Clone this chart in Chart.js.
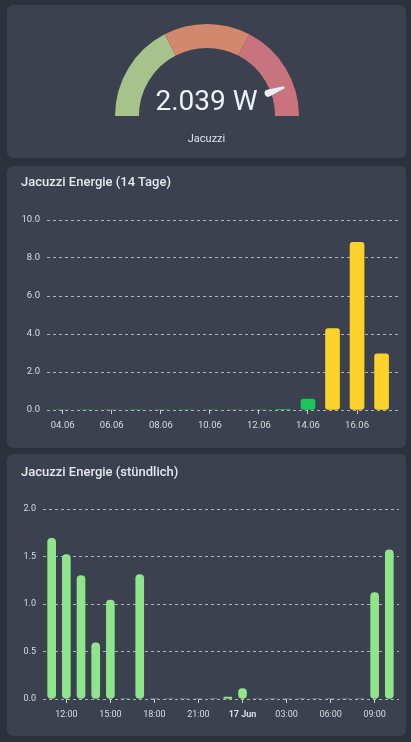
<!DOCTYPE html>
<html>
<head>
<meta charset="utf-8">
<script src="https://cdn.jsdelivr.net/npm/chart.js@4.4.1/dist/chart.umd.min.js"></script>
<style>
  html,body{margin:0;padding:0;background:#2c313c;width:411px;height:742px;overflow:hidden;font-family:Roboto,"Noto Sans",sans-serif;}
  .card{position:absolute;left:7px;width:399px;background:#3b414e;border-radius:6px;}
  .titel{position:absolute;left:14px;color:#e6e8ee;font-size:13px;font-weight:500;}
  canvas{position:absolute;}
  #wert{position:absolute;left:0;width:399px;text-align:center;top:82px;color:#f0f2f7;font-size:28px;line-height:28px;}
  #name{position:absolute;left:0;width:399px;text-align:center;top:127px;color:#e2e4ea;font-size:11px;}
</style>
</head>
<body>
<div class="card" style="top:5px;height:153px;">
  <canvas id="gauge" width="184" height="92" style="left:108px;top:19px;width:184px;height:92px;"></canvas>
  <div id="wert">2.039 W</div>
  <div id="name">Jacuzzi</div>
</div>
<div class="card" style="top:166px;height:282px;">
  <div class="titel" style="top:8px;">Jacuzzi Energie (14 Tage)</div>
  <canvas id="tage" width="399" height="245" style="left:0;top:29px;width:399px;height:245px;"></canvas>
</div>
<div class="card" style="top:454px;height:282px;">
  <div class="titel" style="top:10px;">Jacuzzi Energie (stündlich)</div>
  <canvas id="stunden" width="399" height="250" style="left:0;top:26px;width:399px;height:250px;"></canvas>
</div>
<script>
// Gauge
const leistung = 2039;
const gaugeGrenzen = [0, 800, 1500, 2300];
const gaugeFarben = ["#a8c28b", "#d3876d", "#c8737e"];

// 14 Tage (Tag im Juni)
const tage = [4,5,6,7,8,9,10,11,12,13,14,15,16,17];
const energieTage = [0,0,0,0,0,0,0,0,0,0.02,0.58,4.29,8.83,2.96];
const tageTickWerte = [4,6,8,10,12,14,16];
const tageTicks = ["04.06","06.06","08.06","10.06","12.06","14.06","16.06"];

// stündlich (Stunden ab 16.06 00:00)
const stunden = [11,12,13,14,15,16,17,18,19,20,21,22,23,24,25,26,27,28,29,30,31,32,33,34];
const energieStunden = [1.69,1.52,1.30,0.59,1.04,0,1.31,0,0,0,0,0,0.02,0.11,0,0,0,0,0,0,0,0,1.12,1.57];
const stundenTickWerte = [12,15,18,21,24,27,30,33];
const stundenTicks = ["12:00","15:00","18:00","21:00","17 Jun","03:00","06:00","09:00"];

Chart.defaults.font.family = "Roboto, 'Noto Sans', sans-serif";
Chart.defaults.color = "#d9dce3";

// Gauge
const segmente = gaugeFarben.map((f,i)=>gaugeGrenzen[i+1]-gaugeGrenzen[i]);
const nadel = {
  id:"nadel",
  afterDatasetsDraw(chart){
    const arc = chart.getDatasetMeta(0).data[0];
    const cx = arc.x, cy = arc.y, R = arc.outerRadius;
    const anteil = (leistung-gaugeGrenzen[0])/(gaugeGrenzen[3]-gaugeGrenzen[0]);
    const a = Math.PI + anteil*Math.PI;
    const c = chart.ctx;
    c.save();
    c.translate(cx,cy); c.rotate(a);
    c.fillStyle = "#e9edf5";
    c.beginPath();
    c.moveTo(R*0.71, -3.6);
    c.lineTo(R*0.895, -1.2);
    c.quadraticCurveTo(R*0.905, 0, R*0.895, 1.0);
    c.lineTo(R*0.71, 3.6);
    c.arc(R*0.71, 0, 3.6, Math.PI/2, Math.PI*1.5);
    c.closePath();
    c.fill();
    c.restore();
  }
};
new Chart(document.getElementById("gauge"), {
  type:"doughnut",
  data:{datasets:[{data:segmente, backgroundColor:gaugeFarben, borderWidth:0}]},
  options:{responsive:false, animation:false, rotation:-90, circumference:180, cutout:"74%",
    plugins:{legend:{display:false}, tooltip:{enabled:false}}},
  plugins:[nadel]
});

const gitter = {color:"rgba(222,226,234,0.7)", lineWidth:1, drawTicks:false};

// 14 Tage
new Chart(document.getElementById("tage"), {
  type:"bar",
  data:{datasets:[{
    data: tage.map((t,i)=>({x:t, y:energieTage[i]})),
    backgroundColor: ctx => (ctx.raw && ctx.raw.y < 1) ? "#1fc55a" : "#fdd22b",
    barThickness:14, borderRadius:3, borderSkipped:false
  }]},
  options:{responsive:false, animation:false,
    layout:{padding:{top:25,right:7,left:0,bottom:0}},
    plugins:{legend:{display:false}, tooltip:{enabled:false}},
    scales:{
      x:{type:"linear", min:3.36, max:17.71, offset:false,
        afterBuildTicks: s => { s.ticks = tageTickWerte.map(v=>({value:v})); },
        afterFit: s => { s.height = 30; },
        grid:{offset:false, drawOnChartArea:false, drawTicks:true, tickLength:4, color:"#c9cdd6"},
        border:{display:false},
        ticks:{autoSkip:false, maxRotation:0, padding:6, font:{size:9.5}, color:"#d9dce3",
          callback:(v,i)=>tageTicks[i]}},
      y:{min:0, max:10,
        afterFit: s => { s.width = 40; },
        grid:gitter, border:{display:false, dash:[3,3]},
        ticks:{stepSize:2, padding:7, font:{size:9.5}, color:"#d9dce3", callback:v=>v.toFixed(1)}}
    }
  }
});

// stündlich
new Chart(document.getElementById("stunden"), {
  type:"bar",
  data:{datasets:[{
    data: stunden.map((h,i)=>({x:h, y:energieStunden[i]})),
    backgroundColor:"#8fe58a",
    barThickness:8, borderRadius:4, borderSkipped:false
  }]},
  options:{responsive:false, animation:false,
    layout:{padding:{top:29,right:7,left:0,bottom:0}},
    plugins:{legend:{display:false}, tooltip:{enabled:false}},
    scales:{
      x:{type:"linear", min:10.41, max:34.66, offset:false,
        afterBuildTicks: s => { s.ticks = stundenTickWerte.map(v=>({value:v})); },
        afterFit: s => { s.height = 31; },
        grid:{offset:false, drawOnChartArea:false, drawTicks:true, tickLength:4, color:"#c9cdd6"},
        border:{display:false},
        ticks:{autoSkip:false, maxRotation:0, padding:6, color:"#d9dce3",
          font: c => ({size:9, weight: (c.tick && c.tick.value===24) ? "bold" : "normal"}),
          callback:(v,i)=>stundenTicks[i]}},
      y:{min:0, max:2,
        afterFit: s => { s.width = 36; },
        grid:gitter, border:{display:false, dash:[3,3]},
        ticks:{stepSize:0.5, padding:7, font:{size:9}, color:"#d9dce3", callback:v=>v.toFixed(1)}}
    }
  }
});
</script>
</body>
</html>
